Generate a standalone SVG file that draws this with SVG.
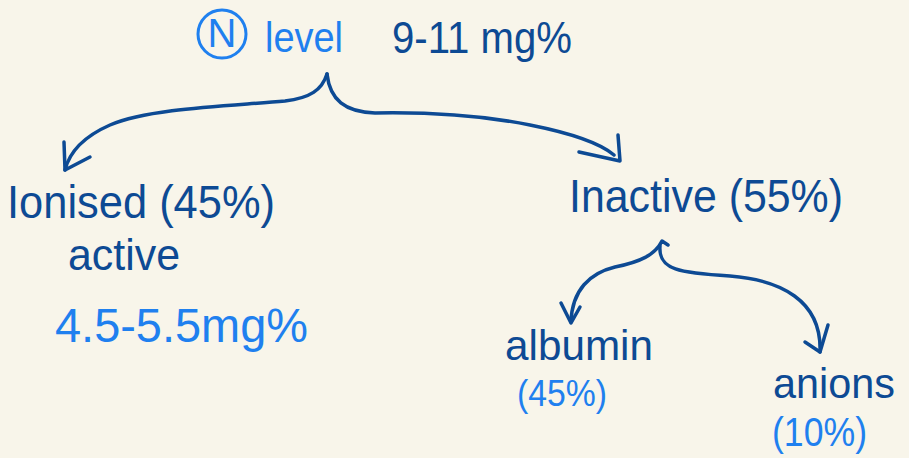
<svg xmlns="http://www.w3.org/2000/svg" width="909" height="458" viewBox="0 0 909 458">
<style>
.dk{fill:#0d4a94;font-family:"Liberation Sans","DejaVu Sans",sans-serif;}
.lt{fill:#1f80ef;font-family:"Liberation Sans","DejaVu Sans",sans-serif;}
.ln{fill:none;stroke:#0d4a94;stroke-width:3.5;stroke-linecap:round;stroke-linejoin:round;}
</style>
<rect x="0" y="0" width="909" height="458" fill="#f8f5ea"/>
<g id="title">
  <circle cx="222" cy="34" r="24" fill="none" stroke="#1f80ef" stroke-width="3"/>
  <text class="lt" x="222" y="47" font-size="40" text-anchor="middle">N</text>
  <text class="lt" x="265" y="52" font-size="42" textLength="78" lengthAdjust="spacingAndGlyphs">level</text>
  <text class="dk" x="392" y="53" font-size="44" textLength="180" lengthAdjust="spacingAndGlyphs">9-11 mg%</text>
</g>
<g id="ionised">
  <text class="dk" x="7" y="218" font-size="46" textLength="268" lengthAdjust="spacingAndGlyphs">Ionised (45%)</text>
  <text class="dk" x="68" y="270" font-size="44" textLength="112" lengthAdjust="spacingAndGlyphs">active</text>
  <text class="lt" x="55" y="342" font-size="48" textLength="253" lengthAdjust="spacingAndGlyphs">4.5-5.5mg%</text>
</g>
<g id="inactive">
  <text class="dk" x="569" y="212" font-size="46" textLength="274" lengthAdjust="spacingAndGlyphs">Inactive (55%)</text>
</g>
<g id="albumin">
  <text class="dk" x="505" y="360" font-size="42" textLength="148" lengthAdjust="spacingAndGlyphs">albumin</text>
  <text class="lt" x="517" y="406" font-size="37" textLength="90" lengthAdjust="spacingAndGlyphs">(45%)</text>
</g>
<g id="anions">
  <text class="dk" x="773" y="398" font-size="42" textLength="122" lengthAdjust="spacingAndGlyphs">anions</text>
  <text class="lt" x="772" y="446" font-size="40" textLength="95" lengthAdjust="spacingAndGlyphs">(10%)</text>
</g>
<g id="connectors">
  <path class="ln" d="M327,74 C322,90 310,98 285,101 C230,106 150,108 110,125 C85,136 70,150 65,170"/>
  <path class="ln" d="M64,142 L65,170 L90,157"/>
  <path class="ln" d="M327,74 C330,100 345,112 375,113 C430,112 480,115 530,125 C570,133 600,143 614,155"/>
  <path class="ln" d="M618,135 L620,161 L579,152"/>
  <path class="ln" d="M668,245 L662,241 C655,255 640,262 615,267 C590,273 572,290 571,322"/>
  <path class="ln" d="M561,303 L571,323 L580,307"/>
  <path class="ln" d="M660,246 C658,270 680,273 730,276 C780,280 822,300 820,352"/>
  <path class="ln" d="M805,342 L820,352 L828,325"/>
</g>
</svg>
